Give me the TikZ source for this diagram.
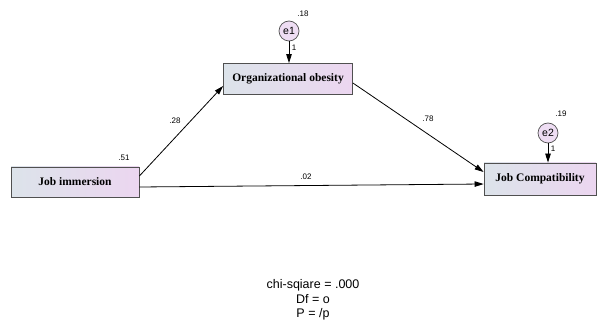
\documentclass[tikz,border=0pt]{standalone}
\usepackage{fontspec}
\setmainfont{Liberation Serif}
\setsansfont{Liberation Sans}
\usetikzlibrary{arrows.meta, positioning, calc}

\definecolor{boxleft}{HTML}{DCE3EA}
\definecolor{boxright}{HTML}{ECD6F0}
\definecolor{errfill}{HTML}{EEDDF3}
\definecolor{edgegray}{HTML}{505050}

\begin{document}
\begin{tikzpicture}[
    x=1pt, y=-1pt,
    >={Triangle[length=9pt,width=5.5pt]},
    varbox/.style={draw=edgegray, line width=0.8pt, left color=boxleft,
                   right color=boxright, inner sep=2pt,
                   font=\fontsize{11.5}{13}\selectfont\bfseries},
    errnode/.style={circle, draw=edgegray, line width=0.7pt, fill=errfill,
                    minimum size=20pt, inner sep=0pt,
                    font=\fontsize{10.5}{12}\sffamily},
    coef/.style={font=\fontsize{8}{9}\sffamily},
    path/.style={->, line width=0.8pt, black},
    fitlbl/.style={font=\fontsize{12.5}{14.5}\sffamily, align=center}
  ]
  \useasboundingbox (0,0) rectangle (600,334);

  % Observed variables
  \node[varbox, minimum width=128pt, minimum height=30pt] (ji) at (75,182) {Job immersion};
  \node[varbox, minimum width=129pt, minimum height=31pt] (oo) at (288,79) {Organizational obesity};
  \node[varbox, minimum width=112pt, minimum height=32pt] (jc) at (540,179) {Job Compatibility};

  % Error terms
  \node[errnode] (e1) at (289,31) {e1};
  \node[errnode] (e2) at (548,133) {e2};

  % Paths
  \draw[path] ([yshift=6pt]ji.east) -- ([yshift=-7pt]oo.west);
  \draw[path] ([yshift=-5pt]ji.east) -- ([yshift=-5pt]jc.west);
  \draw[path] ([yshift=-4pt]oo.east) -- ([yshift=7pt]jc.west);
  \draw[path] (e1) -- (e1 |- oo.north);
  \draw[path] (e2) -- (e2 |- jc.north);

  % Estimates
  \node[coef] (c51) at (124,158) {.51};
  \node[coef] (c18) at (303,14) {.18};
  \node[coef] (c19) at (561,114) {.19};
  \node[coef] (w1) at (294,48) {1};
  \node[coef] (w2) at (553,149) {1};
  \node[coef] (c28) at (175,121) {.28};
  \node[coef] (c78) at (428,119) {.78};
  \node[coef] (c02) at (306,177) {.02};

  % Fit
  \node[fitlbl] (fit) at (313,300) {chi-sqiare = .000\\Df = o\\P = /p};
\end{tikzpicture}
\end{document}
